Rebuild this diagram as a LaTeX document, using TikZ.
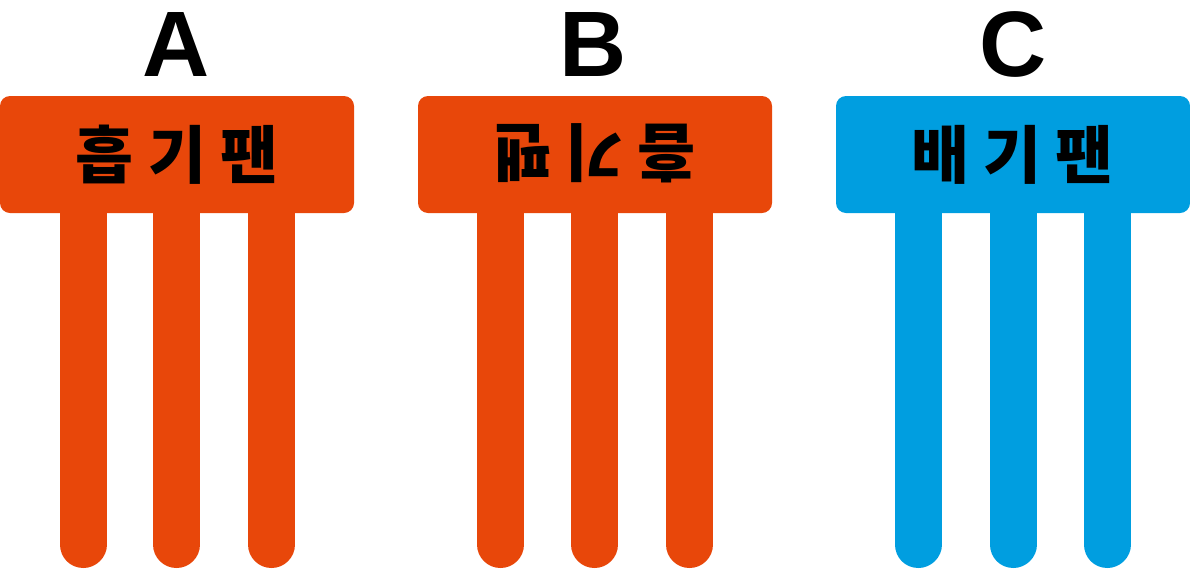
\documentclass[tikz,border=0pt]{standalone}
\usepackage{fontspec}
\setmainfont{Liberation Sans}
\newfontfamily\kr{Noto Sans CJK KR}
\definecolor{fanorange}{RGB}{232,71,10}
\definecolor{fanblue}{RGB}{0,158,224}
\begin{document}
\begin{tikzpicture}[x=1pt,y=-1pt,
  header/.style={rounded corners=10pt},
  bar/.style={line width=47pt,line cap=round},
  letter/.style={anchor=base,inner sep=0pt,font=\fontsize{93}{93}\selectfont\bfseries},
  label/.style={inner sep=0pt,font=\kr\fontsize{63}{63}\selectfont\bfseries}]
\useasboundingbox (0,0) rectangle (1190,568);
% bars
\foreach \x/\c in {83/fanorange,176.5/fanorange,271.5/fanorange,
                   500.5/fanorange,594.5/fanorange,689.5/fanorange,
                   918/fanblue,1013/fanblue,1107/fanblue}{
  \draw[bar,\c] (\x,190) -- (\x,544.5);
}
% headers
\fill[header,fanorange] (0,96) rectangle (354,213);
\fill[header,fanorange] (418,96) rectangle (772,213);
\fill[header,fanblue] (836,96) rectangle (1190,213);
% letters
\node[letter] (la) at (176.5,76) {A};
\node[letter] (lb) at (593.5,76) {B};
\node[letter] (lc) at (1013,76) {C};
% labels
\node[label] (ta) at (177,154.5) {흡 기 팬};
\node[label,rotate=180] (tb) at (594.5,153.5) {흡 기 팬};
\node[label] (tc) at (1012.5,154.5) {배 기 팬};
\end{tikzpicture}
\end{document}
